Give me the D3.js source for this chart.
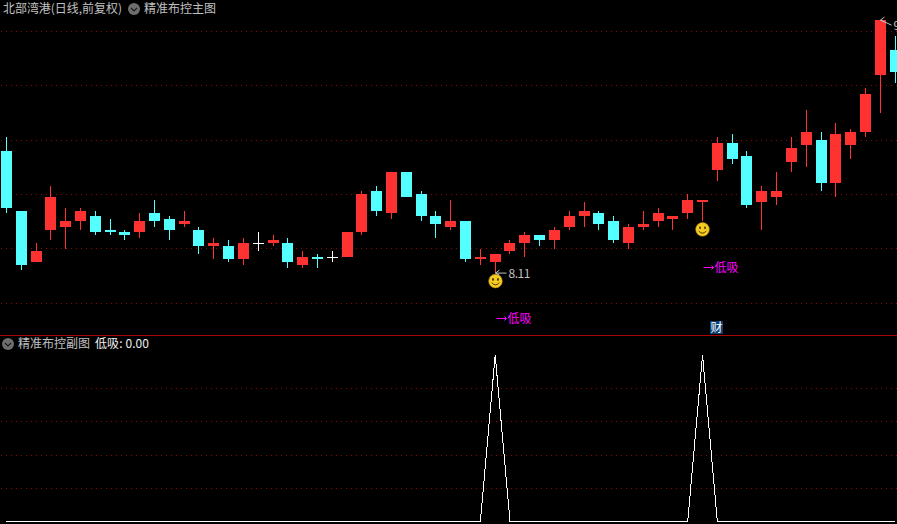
<!DOCTYPE html>
<html><head><meta charset="utf-8">
<script src="https://cdn.jsdelivr.net/npm/d3@7/dist/d3.min.js"></script>
<style>html,body{margin:0;padding:0;background:#000;overflow:hidden}svg{display:block}
text{font-family:"Noto Sans CJK SC","Noto Sans",sans-serif;font-size:12px}</style></head><body>
<script>
const opens =[8.56,8.34,8.15,8.27,8.28,8.30,8.32,8.27,8.26,8.26,8.33,8.31,8.29,8.27,8.21,8.21,8.16,8.22,8.22,8.22,8.14,8.17,8.17,8.17,8.26,8.41,8.33,8.48,8.40,8.32,8.28,8.30,8.16,8.15,8.19,8.22,8.25,8.23,8.28,8.32,8.33,8.30,8.22,8.28,8.30,8.31,8.33,8.37,8.49,8.59,8.54,8.37,8.39,8.52,8.58,8.60,8.44,8.58,8.63,8.84,8.93];
const closes=[8.35,8.14,8.19,8.39,8.30,8.34,8.26,8.26,8.25,8.30,8.30,8.27,8.30,8.21,8.22,8.16,8.22,8.22,8.23,8.15,8.17,8.16,8.17,8.26,8.40,8.34,8.48,8.39,8.32,8.29,8.30,8.16,8.17,8.18,8.22,8.25,8.23,8.27,8.32,8.34,8.29,8.23,8.28,8.29,8.33,8.32,8.38,8.38,8.59,8.53,8.36,8.41,8.41,8.57,8.63,8.44,8.62,8.63,8.77,9.04,8.85];
const highs =[8.61,8.34,8.22,8.43,8.35,8.35,8.34,8.31,8.27,8.33,8.38,8.32,8.34,8.28,8.24,8.23,8.24,8.26,8.25,8.24,8.19,8.18,8.19,8.26,8.41,8.43,8.48,8.48,8.41,8.34,8.38,8.30,8.20,8.18,8.23,8.26,8.25,8.28,8.34,8.37,8.34,8.32,8.29,8.34,8.35,8.32,8.40,8.38,8.61,8.62,8.56,8.43,8.48,8.61,8.71,8.63,8.66,8.64,8.79,9.04,8.98];
const lows  =[8.33,8.12,8.15,8.23,8.20,8.27,8.25,8.25,8.23,8.24,8.28,8.23,8.28,8.18,8.16,8.15,8.14,8.19,8.21,8.13,8.13,8.13,8.15,8.17,8.25,8.32,8.31,8.39,8.30,8.24,8.27,8.15,8.14,8.11,8.18,8.17,8.21,8.20,8.27,8.28,8.27,8.22,8.20,8.27,8.28,8.27,8.31,8.30,8.45,8.51,8.35,8.27,8.36,8.48,8.50,8.41,8.39,8.53,8.61,8.70,8.81];
const signal=[0,0,0,0,0,0,0,0,0,0,0,0,0,0,0,0,0,0,0,0,0,0,0,0,0,0,0,0,0,0,0,0,0,1,0,0,0,0,0,0,0,0,0,0,0,0,0,1,0,0,0,0,0,0,0,0,0,0,0,0,0];
const mainGrid=[9.0,8.8,8.6,8.4,8.2,8.0];
const subGrid=[0.8,0.6,0.4,0.2];
const smileIdx=[33,47];
const buyLabels=[{i:33,price:7.944,text:"低吸"},{i:47,price:8.132,text:"低吸"}];
const caiIdx=48, caiPrice=7.91;
const lowIdx=33, highIdx=59;
const titleMain="北部湾港(日线,前复权)", titleMain2="精准布控主图", titleSub="精准布控副图", subValue="低吸: 0.00";

const W=897,H=524;
const RED="#ff3232",CYAN="#54ffff",GRID="#8a0a0a",TXT="#c0c0c0",MAG="#ff00ff";
const svg=d3.select("body").append("svg").attr("width",W).attr("height",H).style("background","#000");
const x=d3.scaleLinear().domain([0,60]).range([6.46,895.06]);
const px=i=>Math.floor(x(i))+.5;
const y=d3.scaleLinear().domain([8,9]).range([303,31]);
const y2=d3.scaleLinear().domain([0,1]).range([521.5,355]);
const snap=v=>Math.round(v);

function grid(vals,s){
  svg.append("g").attr("shape-rendering","crispEdges").selectAll("line").data(vals).join("line")
    .attr("x1",1).attr("x2",W).attr("y1",d=>Math.floor(s(d)+.3)+.5).attr("y2",d=>Math.floor(s(d)+.3)+.5)
    .attr("stroke",GRID).attr("stroke-width",1).attr("stroke-dasharray","1 4");
}
grid(mainGrid,y);grid(subGrid,y2);
svg.append("rect").attr("x",0).attr("y",335).attr("width",W).attr("height",1).attr("fill","#a80808");

const colorOf=i=>closes[i]>opens[i]?RED:closes[i]<opens[i]?CYAN:"#fff";
const g=svg.append("g").attr("shape-rendering","crispEdges");
const idx=d3.range(opens.length);
g.selectAll(".w").data(idx).join("rect").attr("class","w")
  .attr("x",i=>px(i)-.5).attr("width",1)
  .attr("y",i=>snap(y(highs[i]))).attr("height",i=>snap(y(lows[i]))-snap(y(highs[i])))
  .attr("fill",colorOf);
g.selectAll(".b").data(idx).join("rect").attr("class","b")
  .attr("x",i=>px(i)-5.5).attr("width",11)
  .attr("y",i=>snap(y(Math.max(opens[i],closes[i]))))
  .attr("height",i=>Math.max(1,snap(y(Math.min(opens[i],closes[i])))-snap(y(Math.max(opens[i],closes[i])))))
  .attr("fill",colorOf);

// sub-chart line
svg.append("path").attr("fill","none").attr("stroke","#fff").attr("stroke-width",1).attr("shape-rendering","crispEdges")
  .attr("d",d3.line().x(i=>x(i)).y(i=>y2(signal[i]))(idx));

// smileys
smileIdx.forEach(i=>{
  const s=svg.append("g").attr("transform",`translate(${px(i)},${y(lows[i])+8})`);
  s.append("circle").attr("r",6.8).attr("fill","#f4cc20").attr("stroke","#b98a10").attr("stroke-width",.6);
  s.selectAll("ellipse").data([-2.5,2.5]).join("ellipse").attr("cx",d=>d).attr("cy",-1.6).attr("rx",.9).attr("ry",1.4).attr("fill","#4a3300");
  s.append("path").attr("d","M-3.8,1.6Q0,6 3.8,1.6").attr("fill","none").attr("stroke","#4a3300").attr("stroke-width",1);
});

// low / high pointers
function pointer(i,val,dx,dy,label){
  const X=px(i),Y=y(val);
  svg.append("path").attr("fill","none").attr("stroke",TXT).attr("stroke-width",1)
    .attr("d",`M${X+4},${Y-3}L${X},${Y}L${X+4},${Y+2}M${X},${Y}L${X+dx},${Y+dy}`);
  svg.append("text").attr("x",X+dx+2).attr("y",Y+dy+5).attr("fill",TXT).attr("textLength",22).text(label);
}
pointer(lowIdx,lows[lowIdx],11,0,lows[lowIdx].toFixed(2));
pointer(highIdx,highs[highIdx],11,5,highs[highIdx].toFixed(2));

// magenta signals
buyLabels.forEach(d=>{
  const X=px(d.i)+1,Y=Math.round(y(d.price))+.5;
  svg.append("path").attr("fill","none").attr("stroke",MAG).attr("stroke-width",1).attr("d",`M${X},${Y}H${X+10}M${X+8},${Y-2}L${X+10},${Y}L${X+8},${Y+2}`);
  svg.append("text").attr("x",X+11).attr("y",Y+4).attr("fill",MAG).text(d.text);
});

// badge
const cx=px(caiIdx)-1,cy=y(caiPrice);
svg.append("rect").attr("x",cx-6.5).attr("y",cy-6.5).attr("width",13).attr("height",13).attr("fill","#0a3f73");
svg.append("text").attr("x",cx).attr("y",cy+4.5).attr("text-anchor","middle").attr("fill","#fff").text("财");

// titles
function chevron(X,Y){
  svg.append("circle").attr("cx",X).attr("cy",Y).attr("r",6).attr("fill","#6e6e6e");
  svg.append("path").attr("d",`M${X-3},${Y-1}L${X},${Y+2}L${X+3},${Y-1}`).attr("fill","none").attr("stroke","#1c1c1c").attr("stroke-width",1.2);
}
svg.append("text").attr("x",3).attr("y",13).attr("fill",TXT).attr("textLength",119).attr("lengthAdjust","spacingAndGlyphs").text(titleMain);
chevron(134,9);
svg.append("text").attr("x",144).attr("y",13).attr("fill",TXT).text(titleMain2);
chevron(8,344);
svg.append("text").attr("x",18).attr("y",348).attr("fill",TXT).text(titleSub);
svg.append("text").attr("x",95).attr("y",348).attr("fill","#f0f0f0").attr("textLength",54).text(subValue);
</script>
</body></html>
